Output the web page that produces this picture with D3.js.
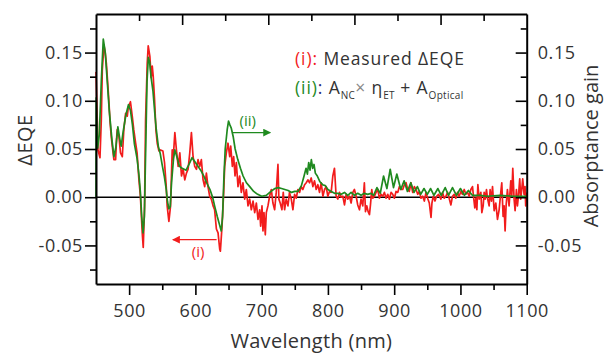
<!DOCTYPE html>
<html>
<head>
<meta charset="utf-8">
<script src="https://cdn.jsdelivr.net/npm/d3@7"></script>
<style>
  body { margin: 0; background: #fff; }
  svg { display: block; font-family: "Open Sans", sans-serif; }
</style>
</head>
<body>
<svg id="chart" width="606" height="354"></svg>
<script>
// (i) measured delta EQE, [wavelength nm, value]
var measured = [
  [450,0.130],[451,0.105],[453,0.049],[456,0.041],[458,0.080],[459.5,0.132],[462,0.158],[464,0.149],[465.6,0.139],
  [468,0.115],[469.6,0.098],[471,0.080],[473,0.063],[474.6,0.053],[477,0.039],[479.6,0.039],[481,0.060],[482,0.070],
  [484.6,0.063],[487,0.046],[489.7,0.042],[492,0.070],[494.7,0.087],[497.2,0.084],[498.7,0.093],[502,0.099],[504.7,0.084],
  [507,0.070],[509.8,0.056],[512,0.046],[514.8,0.018],[517,0.001],[519.8,-0.037],[521.3,-0.052],[523.3,-0.009],[524.8,0.080],
  [527.3,0.139],[528.8,0.157],[531.3,0.146],[533.3,0.124],[534.9,0.136],[536.4,0.125],[538.4,0.101],[540.4,0.070],[542.4,0.056],
  [544.9,0.048],[547.4,0.049],[550.9,0.048],[553.4,0.036],[556,0.011],[557.4,-0.009],[560,-0.025],[562.5,-0.009],[565,0.049],
  [566.4,0.039],[569,0.067],[571.4,0.049],[574,0.032],[576.5,0.046],[579,0.022],[581.5,0.029],[584,0.018],[586.5,0.025],
  [589,0.029],[591.5,0.046],[594,0.067],[596.5,0.042],[599,0.032],[601.6,0.029],[604,0.039],[606.6,0.032],[609,0.039],
  [611.6,0.018],[614,0.011],[616.6,0.025],[619,0.011],[621.6,0.001],[624,-0.002],[626.7,-0.009],[629,-0.013],[631.7,-0.033],
  [634.2,-0.037],[636.7,-0.054],[637.7,-0.056],[640.2,-0.030],[642.7,0.005],[644.2,0.032],[646.7,0.046],[649.2,0.056],[651.8,0.042],
  [653.3,0.053],[655.8,0.032],[657.8,0.042],[659.8,0.022],[661.8,0.036],[664.3,0.011],[666.8,0.022],[669.3,0.005],[671.8,0.015],
  [674.4,-0.002],[676.9,0.008],[679.4,-0.009],[681.9,-0.002],[684.4,-0.013],[687,-0.004],[689.5,-0.016],[692,-0.006],[694.5,-0.023],
  [697,-0.013],[698.5,-0.030],[700.5,-0.009],[702,-0.035],[703.5,-0.016],[705.5,-0.039],[707,-0.016],[709.5,-0.009],[712,0.001],
  [714.6,0.008],[717,-0.006],[719.6,-0.013],[722,0.005],[724.6,0.034],[726,-0.002],[728,-0.006],[730.6,-0.013],[732.6,0.005],
  [734.6,-0.013],[737,-0.002],[739.7,-0.009],[742,0.005],[744.7,-0.002],[747.2,-0.013],[749.7,0.003],[752.2,-0.001],[754.7,0.008],
  [757.2,0.005],[759.7,0.011],[762.2,0.008],[764.8,0.013],[767.3,0.015],[769.8,0.018],[772.3,0.015],[774.8,0.020],[777.3,0.011],
  [779.8,0.017],[782.3,0.008],[784.8,0.013],[787.3,0.005],[789.9,0.015],[792.4,0.001],[794.9,0.008],[797.4,0.011],[799.9,0.001],
  [802.4,0.006],[804.9,0.005],[807.4,0.022],[809.9,0.030],[812.4,0.001],[815,-0.002],[817.5,0.005],[820,0.000],[822.5,0.001],
  [825,-0.008],[827.5,0.003],[830,-0.002],[832.6,0.001],[835,-0.006],[837.6,0.005],[840,0.008],[842.6,0.001],[845,-0.008],
  [847.6,-0.013],[850,-0.002],[852.6,-0.009],[855,0.015],[856.7,-0.015],[858.7,-0.009],[860.7,-0.015],[862.7,-0.018],[864.2,-0.008],
  [866.2,0.008],[867.7,-0.001],[870.2,0.001],[872.7,0.005],[875.2,0.008],[877.7,-0.001],[880.3,0.003],[882.8,0.001],[885.3,0.005],
  [887.8,-0.001],[890.3,0.003],[892.8,-0.002],[895.3,0.005],[897.8,0.003],[900.3,-0.001],[902.8,0.006],[905.4,0.005],[907.9,0.011],
  [910.4,0.008],[912.9,0.008],[915.4,0.013],[917.9,0.015],[920.4,0.008],[922.9,0.006],[925.4,0.015],[927.9,0.005],[930.5,0.011],
  [933,0.008],[935.5,0.003],[938,0.006],[940.5,-0.001],[943,0.001],[945.5,-0.004],[948,0.005],[950.5,-0.001],[953,-0.006],
  [955.6,-0.021],[957,-0.006],[959,0.001],[961.6,-0.004],[964,0.001],[967,0.003],[970.5,-0.002],[973,0.005],[975.6,-0.001],
  [978,0.001],[980.6,0.005],[983,-0.001],[985.6,-0.008],[988,0.001],[990.6,0.003],[993,-0.001],[995.6,0.005],[998,0.001],
  [1000.7,0.006],[1003,0.003],[1005.7,0.008],[1008.2,0.003],[1010.7,0.005],[1013.2,0.001],[1015.7,0.008],[1018.2,0.011],[1019.7,0.001],
  [1021.7,-0.011],[1023.3,-0.001],[1024.8,-0.013],[1026.3,0.013],[1028.3,-0.002],[1030.8,0.005],[1032.3,-0.016],[1034.3,-0.009],[1035.8,0.005],
  [1037.3,-0.002],[1039.3,0.008],[1040.8,-0.001],[1043.3,-0.009],[1044.8,0.008],[1046.8,-0.004],[1048.4,0.011],[1050.9,-0.014],[1053.4,-0.006],
  [1055.9,-0.023],[1058.4,-0.013],[1060.9,0.005],[1062.4,0.015],[1064.4,-0.020],[1065.9,-0.009],[1067.4,-0.035],[1068.9,-0.009],[1070.9,0.008],
  [1073.4,-0.009],[1076,0.017],[1077.5,0.001],[1079,0.030],[1081,-0.002],[1082.5,-0.014],[1084.5,0.008],[1086,-0.009],[1087.5,0.001],
  [1089.5,0.019],[1091,-0.002],[1092.5,0.008],[1094,0.019],[1096,0.003],[1097.5,0.011],[1098.5,-0.009],[1100,0.005]
];

// (ii) A_NC x eta_ET + A_Optical, [wavelength nm, value]
var modeled = [
  [450,0],[450.3,0.103],[452.5,0.051],[455,0.065],[458,0.120],[461,0.164],[464,0.150],[467,0.120],[470,0.090],[474,0.060],
  [477,0.042],[480,0.052],[483,0.073],[486,0.060],[488,0.053],[491,0.068],[495,0.085],[499,0.096],[502,0.090],[505,0.075],
  [508,0.055],[512,0.040],[515,0.022],[517,0.005],[519,-0.020],[521,-0.037],[523,-0.020],[525,0.050],[527,0.120],[529,0.145],
  [531,0.140],[533,0.125],[536,0.110],[539,0.085],[541,0.070],[544,0.053],[547,0.045],[550,0.033],[553,0.022],[556,0.008],
  [558,-0.005],[560,-0.012],[562,-0.010],[564,0.015],[567,0.040],[569,0.049],[572,0.042],[576,0.032],[580,0.030],[586,0.028],
  [591,0.035],[595,0.041],[599,0.037],[604,0.032],[608,0.028],[612,0.023],[617,0.015],[622,0.008],[626,0.000],[629,-0.009],
  [633,-0.020],[637,-0.030],[639,-0.035],[641,-0.020],[643,0.020],[645,0.050],[648,0.070],[650,0.079],[652,0.075],[654,0.072],
  [657,0.063],[660,0.050],[664,0.039],[668,0.030],[672,0.022],[677,0.015],[682,0.011],[688,0.006],[694,0.003],[700,0.001],
  [707,0.002],[714,0.006],[720,0.009],[725,0.010],[730,0.009],[735,0.008],[740,0.007],[745,0.005],[750,0.006],[755,0.006],
  [760,0.012],[764,0.022],[767,0.030],[769,0.024],[771,0.036],[773,0.028],[775,0.039],[777,0.030],[779,0.034],[781,0.025],
  [784,0.022],[788,0.016],[792,0.013],[796,0.012],[800,0.008],[805,0.006],[810,0.004],[815,0.004],[820,0.003],[825,0.005],
  [830,0.002],[835,0.005],[840,0.002],[845,0.004],[850,0.002],[855,0.004],[860,0.003],[865,0.004],[869,0.002],[874,0.010],
  [879,0.004],[884,0.022],[889,0.009],[894,0.029],[899,0.010],[904,0.024],[910,0.008],[915,0.017],[920,0.006],[925,0.015],
  [930,0.005],[935,0.011],[940,0.003],[945,0.009],[950,0.003],[955,0.009],[960,0.002],[966,0.009],[971,0.002],[977,0.010],
  [982,0.002],[988,0.010],[994,0.002],[1000,0.009],[1006,0.002],[1012,0.007],[1018,0.002],[1030,0.002],[1040,0.001],[1060,0.002],
  [1080,0.001],[1100,0.001]
];

var xTicks = [500, 600, 700, 800, 900, 1000, 1100];
var xMinor = [550, 650, 750, 850, 950, 1050];
var yTicks = [-0.05, 0.00, 0.05, 0.10, 0.15];
var yMinor = [-0.075, -0.025, 0.025, 0.075, 0.125, 0.175];
var topTicks = [1, 2, 3, 4, 5, 6, 7, 8, 9];

var RED = "#f21c1c", GREEN = "#1f8a1f", TXT = "#333";

var margin = { top: 14, right: 79.3, bottom: 70, left: 96 },
  W = 606, H = 354,
  width = W - margin.left - margin.right,
  height = H - margin.top - margin.bottom;

var svg = d3.select("#chart");
var g = svg.append("g").attr("transform", "translate(" + margin.left + "," + margin.top + ")");

var x = d3.scaleLinear().domain([450, 1100]).range([0, width]);
var y = d3.scaleLinear().domain([-0.09, 0.19]).range([height, 0]);
var xTop = d3.scaleLinear().domain([0, 10]).range([0, width]);

var fmt = function(d) { return d.toFixed(2); };

// zero line
g.append("line")
  .attr("x1", 0).attr("x2", width)
  .attr("y1", y(0)).attr("y2", y(0))
  .attr("stroke", "#000").attr("stroke-width", 1.6);

var line = d3.line().x(function(d) { return x(d[0]); }).y(function(d) { return y(d[1]); });

g.append("path").datum(measured)
  .attr("fill", "none").attr("stroke", RED).attr("stroke-width", 1.7)
  .attr("stroke-linejoin", "round").attr("d", line);

g.append("path").datum(modeled)
  .attr("fill", "none").attr("stroke", GREEN).attr("stroke-width", 1.7)
  .attr("stroke-linejoin", "round").attr("d", line);

// axes
function styleAxis(sel) {
  sel.selectAll(".domain").attr("stroke", "#000").attr("stroke-width", 2);
  sel.selectAll(".tick line").attr("stroke", "#000").attr("stroke-width", 1.6);
  sel.selectAll("text").attr("fill", TXT)
    .style("font-size", "18px").style("letter-spacing", "0.6px")
    .style("font-family", "'Open Sans', sans-serif");
}

g.append("g").attr("transform", "translate(0," + height + ")")
  .call(d3.axisBottom(x).tickValues(xTicks).tickFormat(d3.format("d")).tickSize(11).tickSizeOuter(0).tickPadding(9))
  .call(styleAxis);
g.append("g").attr("transform", "translate(0," + height + ")")
  .call(d3.axisBottom(x).tickValues(xMinor).tickSize(6).tickFormat(""))
  .call(styleAxis).select(".domain").remove();

g.append("g")
  .call(d3.axisLeft(y).tickValues(yTicks).tickFormat(fmt).tickSize(11).tickSizeOuter(0).tickPadding(2))
  .call(styleAxis);
g.append("g")
  .call(d3.axisLeft(y).tickValues(yMinor).tickSize(6).tickFormat(""))
  .call(styleAxis).select(".domain").remove();

g.append("g").attr("transform", "translate(" + width + ",0)")
  .call(d3.axisRight(y).tickValues(yTicks).tickFormat(fmt).tickSizeInner(-11).tickSizeOuter(0).tickPadding(11))
  .call(styleAxis);
g.append("g").attr("transform", "translate(" + width + ",0)")
  .call(d3.axisRight(y).tickValues(yMinor).tickSizeInner(-6).tickFormat(""))
  .call(styleAxis).select(".domain").remove();

g.append("g")
  .call(d3.axisBottom(xTop).tickValues(topTicks).tickSize(0).tickFormat("").tickSizeOuter(0))
  .call(styleAxis)
  .selectAll(".tick line").attr("y2", function(d) { return d % 2 === 0 ? 11 : 7; });

// axis titles
svg.append("text")
  .attr("x", margin.left + width / 2).attr("y", 348)
  .attr("text-anchor", "middle").attr("fill", TXT)
  .style("font-size", "20px").style("letter-spacing", "0.3px").text("Wavelength (nm)");

svg.append("text")
  .attr("transform", "translate(32,140) rotate(-90)")
  .attr("text-anchor", "middle").attr("fill", TXT)
  .style("font-size", "20px").style("letter-spacing", "0.5px").text("ΔEQE");

svg.append("text")
  .attr("transform", "translate(598,146) rotate(-90)")
  .attr("text-anchor", "middle").attr("fill", TXT)
  .style("font-size", "20px").text("Absorptance gain");

// legend
var l1 = svg.append("text").attr("x", 295).attr("y", 65)
  .style("font-size", "17.5px").style("letter-spacing", "0.9px").attr("fill", TXT);
l1.append("tspan").attr("fill", RED).text("(i):");
l1.append("tspan").text(" Measured ΔEQE");

var l2 = svg.append("text").attr("x", 295).attr("y", 94)
  .style("font-size", "17.5px").style("letter-spacing", "0.9px").attr("fill", TXT);
l2.append("tspan").attr("fill", GREEN).text("(ii)");
l2.append("tspan").attr("fill", "#2a2a80").text(":");
l2.append("tspan").text(" A");
l2.append("tspan").attr("dy", 5).style("font-size", "10px").style("letter-spacing", "0.3px").text("NC");
l2.append("tspan").attr("dy", -5).attr("fill", "#888").text("×");
l2.append("tspan").text(" η");
l2.append("tspan").attr("dy", 5).style("font-size", "10px").style("letter-spacing", "0.3px").text("ET");
l2.append("tspan").attr("dy", -5).text(" + A");
l2.append("tspan").attr("dy", 5).style("font-size", "10px").style("letter-spacing", "0.3px").text("Optical");

// annotations with arrows
var defs = svg.append("defs");
[["arrG", GREEN], ["arrR", RED]].forEach(function(a) {
  defs.append("marker").attr("id", a[0])
    .attr("viewBox", "0 0 10 10").attr("refX", 9).attr("refY", 5)
    .attr("markerWidth", 7).attr("markerHeight", 6).attr("orient", "auto")
    .append("path").attr("d", "M0,0L10,5L0,10z").attr("fill", a[1]);
});

g.append("line")
  .attr("x1", x(656)).attr("x2", x(713))
  .attr("y1", y(0.067)).attr("y2", y(0.067))
  .attr("stroke", GREEN).attr("stroke-width", 1.3).attr("marker-end", "url(#arrG)");
g.append("text")
  .attr("x", x(679)).attr("y", y(0.074))
  .attr("text-anchor", "middle").attr("fill", GREEN)
  .style("font-size", "15px").text("(ii)");

g.append("line")
  .attr("x1", x(632)).attr("x2", x(566))
  .attr("y1", y(-0.044)).attr("y2", y(-0.044))
  .attr("stroke", RED).attr("stroke-width", 1.3).attr("marker-end", "url(#arrR)");
g.append("text")
  .attr("x", x(604)).attr("y", y(-0.0625))
  .attr("text-anchor", "middle").attr("fill", RED)
  .style("font-size", "15px").text("(i)");
</script>
</body>
</html>
